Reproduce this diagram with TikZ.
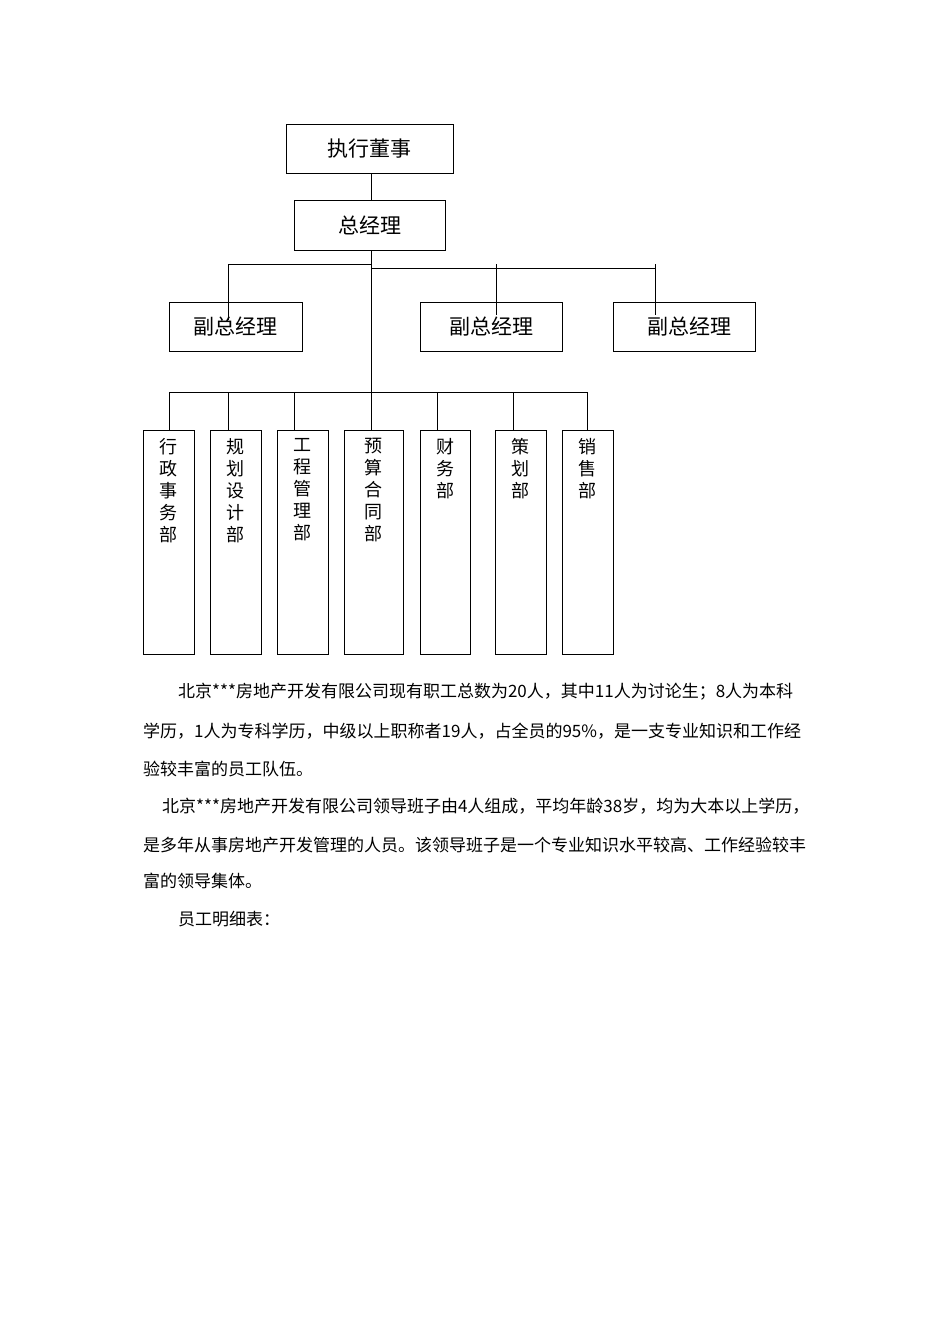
\documentclass[tikz,border=0pt]{standalone}
\usepackage{fontspec}
\setmainfont{Noto Sans CJK SC}
\begin{document}
\begin{tikzpicture}[x=1pt,y=-1pt,
  bx/.style={draw,line width=0.9pt,rectangle,inner sep=0pt},
  ln/.style={line width=0.9pt},
  big/.style={font=\fontsize{21}{22}\selectfont},
  dep/.style={font=\fontsize{18}{22}\selectfont,align=center,anchor=north},
  para/.style={anchor=west,inner sep=0pt,font=\fontsize{17}{18}\selectfont}]
\useasboundingbox (0,0) rectangle (950,1344);
\node[bx,minimum width=167pt,minimum height=49pt,big] (ceo) at (369.5,148.5) {执行董事};
\node[bx,minimum width=151pt,minimum height=50pt,big] (gm) at (369.5,225) {总经理};
\node[bx,minimum width=133pt,minimum height=49pt,big] (v1) at (235.5,326.5) {副总经理};
\node[bx,minimum width=142pt,minimum height=49pt,big] (v2) at (491,326.5) {副总经理};
\node[bx,minimum width=142pt,minimum height=49pt,big] (v3) at (684,326.5) {\hspace*{10pt}副总经理};
\coordinate (j1) at (371,264);
\coordinate (j2) at (371,392);
\draw[ln] (371,173) -- (371,200);
\draw[ln] (371,250) -- (j2);
\draw[ln] (j1) -- (228,264) -- (228,320);
\draw[ln] (372,268) -- (655,268);
\draw[ln] (496,264) -- (496,315);
\draw[ln] (655,264) -- (655,315);
\draw[ln] (169,392) -- (587,392);
\foreach \name/\xl/\xr/\lx/\t in {
  d1/143/194/169/{行\\政\\事\\务\\部},
  d2/210/261/228/{规\\划\\设\\计\\部},
  d3/277/328/294/{工\\程\\管\\理\\部},
  d4/344/403/371/{预\\算\\合\\同\\部},
  d5/420/470/437/{财\\务\\部},
  d6/495/546/513/{策\\划\\部},
  d7/562/613/587/{销\\售\\部}}{
  \draw[ln] (\xl,430) rectangle (\xr,654);
  \draw[ln] (\lx,392) -- (\lx,430);
  \node[dep] (\name) at ({(\xl+\xr)/2},435) {\t};
}
\node[para] (p1) at (178,692) {北京***房地产开发有限公司现有职工总数为20人，其中11人为讨论生；8人为本科};
\node[para] (p2) at (143,731) {学历，1人为专科学历，中级以上职称者19人，占全员的95\%，是一支专业知识和工作经};
\node[para] (p3) at (143,769) {验较丰富的员工队伍。};
\node[para] (p4) at (162,806) {北京***房地产开发有限公司领导班子由4人组成，平均年龄38岁，均为大本以上学历，};
\node[para] (p5) at (143,845) {是多年从事房地产开发管理的人员。该领导班子是一个专业知识水平较高、工作经验较丰};
\node[para] (p6) at (143,881) {富的领导集体。};
\node[para] (p7) at (178,919) {员工明细表：};
\end{tikzpicture}
\end{document}
